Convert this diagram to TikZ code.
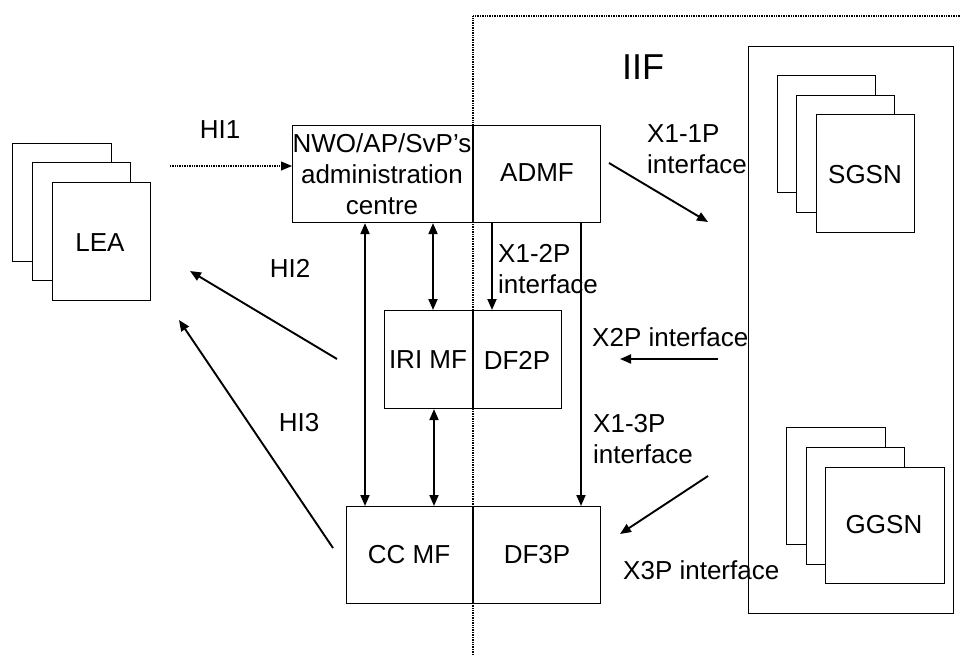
\documentclass[tikz,border=0pt]{standalone}
\usepackage{fontspec}
\setmainfont{Liberation Sans}
\usetikzlibrary{arrows.meta,calc}
\begin{document}
\begin{tikzpicture}[x=1pt,y=-1pt,
  box/.style={draw,line width=1.1pt,fill=white,inner sep=0pt,anchor=north west},
  lbl/.style={inner sep=0pt,font=\fontsize{26}{31}\selectfont},
  arr/.style={line width=1.9pt,-{Triangle[length=11pt,width=9pt]}},
  darr/.style={line width=1.9pt,{Triangle[length=11pt,width=9pt]}-{Triangle[length=11pt,width=9pt]}},
  dotline/.style={line width=1.1pt,dash pattern=on 1pt off 0.7pt}]
\useasboundingbox (0,0) rectangle (961,655);

% IIF boundary (dotted)
\coordinate (dB) at (473,655);
\coordinate (dT) at (473,16);
\coordinate (dR) at (961,16);
\draw[dotline] (dB) -- (dT) -- (dR);
\node[lbl,font=\fontsize{36}{40}\selectfont] (iif) at (643,67) {IIF};

% LEA stack
\node[box,minimum width=99pt,minimum height=118pt] (lea3) at (12,143) {};
\node[box,minimum width=98pt,minimum height=118pt] (lea2) at (32,162) {};
\node[box,minimum width=98pt,minimum height=118pt] (lea1) at (52,182) {};
\node[lbl] (leat) at (100,243) {LEA};

% admin box
\node[box,minimum width=308pt,minimum height=97pt] (admin) at (292,125) {};
\draw[line width=1.1pt] (admin.north -| dT) -- (admin.south -| dT);
\node[lbl,align=center] (admint) at (382,174) {NWO/AP/SvP’s\\administration\\centre};
\node[lbl] (admf) at (537,173) {ADMF};

% IRI box
\node[box,minimum width=177pt,minimum height=98pt] (iri) at (384,310) {};
\draw[line width=1.1pt] (iri.north -| dT) -- (iri.south -| dT);
\node[lbl] (irit) at (428,360) {IRI MF};
\node[lbl] (df2p) at (517,360) {DF2P};

% CC box
\node[box,minimum width=254pt,minimum height=97pt] (cc) at (346,506) {};
\draw[line width=1.1pt] (cc.north -| dT) -- (cc.south -| dT);
\node[lbl] (cct) at (409,555) {CC MF};
\node[lbl] (df3p) at (537,555) {DF3P};

% IIF network box
\node[box,minimum width=205pt,minimum height=567pt] (net) at (748,46) {};
\node[box,minimum width=98pt,minimum height=117pt] (sg3) at (777,75) {};
\node[box,minimum width=98pt,minimum height=117pt] (sg2) at (796,95) {};
\node[box,minimum width=98pt,minimum height=118pt] (sg1) at (816,114) {};
\node[lbl] (sgsn) at (865,175) {SGSN};
\node[box,minimum width=99pt,minimum height=117pt] (gg3) at (786,427) {};
\node[box,minimum width=98pt,minimum height=117pt] (gg2) at (806,447) {};
\node[box,minimum width=119pt,minimum height=116pt] (gg1) at (825,467) {};
\node[lbl] (ggsn) at (884,525) {GGSN};

% labels
\node[lbl] (hi1) at (220,130) {HI1};
\node[lbl] (hi2) at (290,268) {HI2};
\node[lbl] (hi3) at (299,423) {HI3};
\node[lbl,align=left,anchor=north west] (x11) at (647,124) {X1-1P\\interface};
\node[lbl,align=left,anchor=north west] (x12) at (498,244) {X1-2P\\interface};
\node[lbl,align=left,anchor=north west] (x13) at (593,414) {X1-3P\\interface};
\node[lbl,anchor=west] (x2) at (592,337) {X2P interface};
\node[lbl,anchor=west] (x3) at (623,570) {X3P interface};

% connector coordinates
\coordinate (h1s) at (170,166);
\coordinate (h2s) at (337,359);
\coordinate (h2e) at (190,271);
\coordinate (h3s) at (333,548);
\coordinate (h3e) at (179,320);
\coordinate (c1) at (365,0);
\coordinate (c2) at (433,0);
\coordinate (c3) at (434,0);
\coordinate (c4) at (492,0);
\coordinate (c5) at (581,0);
\coordinate (x1s) at (609,163);
\coordinate (x1e) at (708,222);
\coordinate (x2s) at (718,359);
\coordinate (x2e) at (620,359);
\coordinate (x3s) at (708,476);
\coordinate (x3e) at (620,534);

% connectors
\draw[dotline,-{Triangle[length=11pt,width=9pt]}] (h1s) -- (h1s -| admin.west);
\draw[arr] (h2s) -- (h2e);
\draw[arr] (h3s) -- (h3e);
\draw[darr] (admin.south -| c1) -- (cc.north -| c1);
\draw[darr] (admin.south -| c2) -- (iri.north -| c2);
\draw[darr] (iri.south -| c3) -- (cc.north -| c3);
\draw[arr] (admin.south -| c4) -- (iri.north -| c4);
\draw[arr] (admin.south -| c5) -- (cc.north -| c5);
\draw[arr] (x1s) -- (x1e);
\draw[arr] (x2s) -- (x2e);
\draw[arr] (x3s) -- (x3e);
\end{tikzpicture}
\end{document}
